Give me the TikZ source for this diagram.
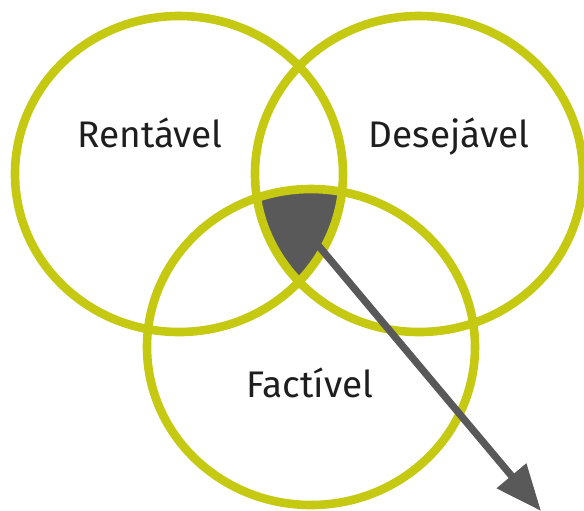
\documentclass[tikz,border=0pt]{standalone}
\usepackage{fontspec}
\setmainfont{Fira Sans}
\usetikzlibrary{arrows.meta}

\definecolor{ringgreen}{RGB}{198,201,18}
\definecolor{coregray}{RGB}{89,89,89}
\definecolor{labelgray}{RGB}{30,30,30}

\tikzset{
  ring/.style={draw=ringgreen, line width=4.3pt},
  lbl/.style={anchor=base, text=labelgray, font=\fontsize{18.5}{21}\selectfont},
  pointer/.style={draw=coregray, line width=3.6pt,
    -{Triangle[length=23pt,width=18.5pt]}}
}

\begin{document}
\begin{tikzpicture}[x=0.5pt,y=-0.5pt]
    % Radii of the three sets
    \def\rx{164}  % horizontal radius
    \def\ry{158}  % vertical radius

    \useasboundingbox (0,0) rectangle (584,510);

    % Centres of the sets
    \coordinate (Crent) at (179,174);
    \coordinate (Cdes) at (419,174);
    \coordinate (Cfact) at (311,347);

    % Shade the common part of all three
    \begin{scope}
        \clip (Crent) ellipse [x radius=\rx, y radius=\ry];
        \clip (Cdes) ellipse [x radius=\rx, y radius=\ry];
        \fill[coregray] (Cfact) ellipse [x radius=\rx, y radius=\ry];
    \end{scope}

    % Draw the rings
    \draw[ring] (Crent) ellipse [x radius=\rx, y radius=\ry];
    \draw[ring] (Cdes) ellipse [x radius=\rx, y radius=\ry];
    \draw[ring] (Cfact) ellipse [x radius=\rx, y radius=\ry];

    % Labels
    \node[lbl] (rent) at (150,147) {Rentável};
    \node[lbl] (des) at (449,147) {Desejável};
    \node[lbl] (fact) at (310,397) {Factível};

    % Arrow out of the shaded part
    \coordinate (core) at (312,238);
    \coordinate (tip) at (541,511);
    \draw[pointer] (core) -- (tip);
\end{tikzpicture}
\end{document}
